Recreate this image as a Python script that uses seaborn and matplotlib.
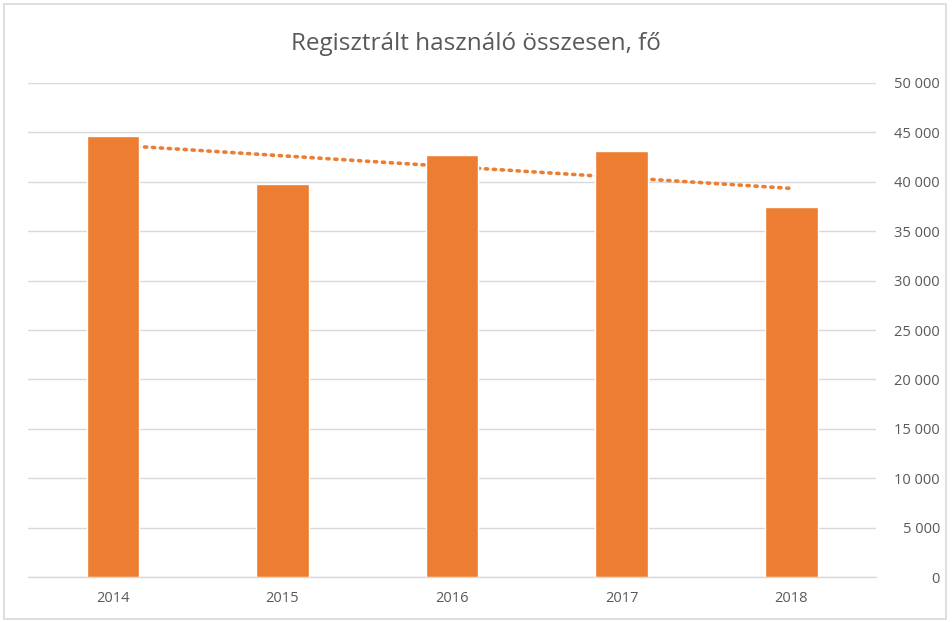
import matplotlib
matplotlib.use("Agg")
import matplotlib.pyplot as plt
from matplotlib.patches import Rectangle
import seaborn as sns
import numpy as np
import pandas as pd

years = ["2014", "2015", "2016", "2017", "2018"]
users = [44600, 39800, 42700, 43100, 37450]
y_ticks = [0, 5000, 10000, 15000, 20000, 25000, 30000, 35000, 40000, 45000, 50000]
title = "Regisztrált használó összesen, fő"

sns.set_theme(style="white")
plt.rcParams['font.family'] = ['Open Sans', 'DejaVu Sans']

df = pd.DataFrame({"year": years, "users": users})
orange = "#ED7D31"
grid_c = "#D9D9D9"
text_c = "#595959"

fig = plt.figure(figsize=(9.52, 6.22), dpi=100)
ax = fig.add_axes([0.0294, 0.0723, 0.891, 0.7943])

sns.barplot(data=df, x="year", y="users", order=years, color=orange,
            width=0.31, saturation=1, ax=ax, zorder=3)

# linear trendline
xs = np.arange(len(years))
coef = np.polyfit(xs, users, 1)
ax.plot(xs, np.polyval(coef, xs), linestyle=(0, (0.6, 1.6)), color=orange,
        linewidth=2.6, dash_capstyle="round", zorder=2)

ax.set_xlim(-0.5, len(years) - 0.5)
ax.set_ylim(0, 50000)
ax.set_yticks(y_ticks)
ax.set_yticklabels([f"{v:,}".replace(",", " ") for v in y_ticks])
ax.yaxis.tick_right()
ax.yaxis.grid(True, color=grid_c, linewidth=1, zorder=0)
ax.set_axisbelow(True)
for s in ["top", "left", "right"]:
    ax.spines[s].set_visible(False)
ax.spines["bottom"].set_color(grid_c)
ax.spines["bottom"].set_linewidth(1)
ax.tick_params(axis="both", length=0, labelsize=10.5, labelcolor=text_c)
ax.tick_params(axis="y", pad=46)
ax.tick_params(axis="x", pad=10)
for lbl in ax.get_yticklabels():
    lbl.set_horizontalalignment("right")
ax.set_xlabel("")
ax.set_ylabel("")

fig.text(0.5, 0.93, title, ha="center", va="center", fontsize=17.5, color=text_c)

fig.patches.append(Rectangle((0.004, 0.005), 0.99, 0.988, transform=fig.transFigure,
                             fill=False, edgecolor="#D9D9D9", linewidth=1.2))

fig.savefig("out.png", dpi=100)
